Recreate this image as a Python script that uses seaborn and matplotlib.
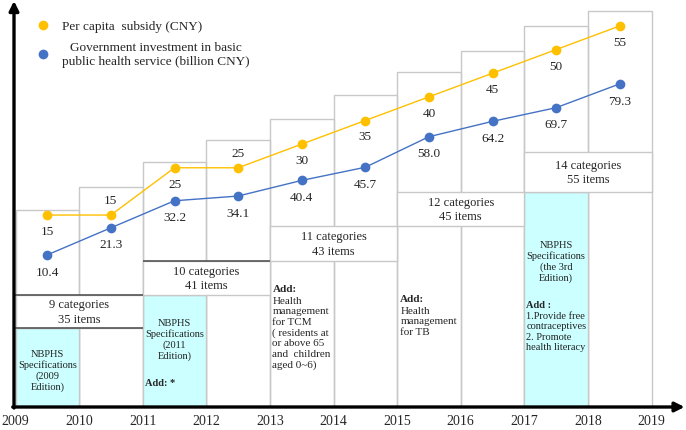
import matplotlib
matplotlib.use("Agg")
import matplotlib.pyplot as plt
from matplotlib.patches import Rectangle
from matplotlib.lines import Line2D
import seaborn as sns
import pandas as pd

# data
years = list(range(2009, 2019))
subsidy = [15, 15, 25, 25, 30, 35, 40, 45, 50, 55]
investment = [10.4, 21.3, 32.2, 34.1, 40.4, 45.7, 58.0, 64.2, 69.7, 79.3]
tick_years = list(range(2009, 2020))

category_labels = ["9 categories\n35 items", "10 categories\n41 items",
                   "11 categories\n43 items", "12 categories\n45 items",
                   "14 categories\n55 items"]
category_start = [2009, 2011, 2013, 2015, 2017]

spec_labels = ["NBPHS\nSpecifications\n(2009\nEdition)",
               "NBPHS\nSpecifications\n(2011\nEdition)",
               "NBPHS\nSpecifications\n(the 3rd\nEdition)"]
spec_years = [2009, 2011, 2017]

subsidy_label = "Per capita  subsidy (CNY)"
investment_label = "Government investment in basic\npublic health service (billion CNY)"

add_2013 = "Health\nmanagement\nfor TCM\n( residents at\nor above 65\nand  children\naged 0~6)"
add_2015 = "Health\nmanagement\nfor TB"
add_2017 = "1.Provide free\ncontraceptives\n2. Promote\nhealth literacy"

# layout (pixel units above the x axis)
column_top = [197, 220, 245, 267, 288, 312, 335, 356, 381, 396]
category_bottom = [79, 112, 146, 181, 215]
category_height = [33, 34, 35, 34, 40]
spec_top = [79, 112, 215]
spec_text_y = [37, 68, 146]

YELLOW = "#FFC000"
BLUE = "#4472C4"
CYAN = "#CCFFFF"
LIGHT = "#C8C8C8"
DARK = "#555555"

sns.set_style("white")
plt.rcParams["font.family"] = ["Liberation Serif", "DejaVu Serif"]

fig = plt.figure(figsize=(6.86, 4.31), dpi=100)
ax = fig.add_axes([0, 23 / 431, 1, 408 / 431])
ppy = 63.6
ax.set_xlim(2009 - 15.5 / ppy, 2009 + (686 - 15.5) / ppy)
ax.set_ylim(0, 408)
for s in ax.spines.values():
    s.set_visible(False)
ax.set_yticks([])
ax.set_xticks(tick_years)
ax.tick_params(axis="x", length=0, pad=5, labelsize=10)

# year columns
for y, top in zip(years, column_top):
    ax.add_patch(Rectangle((y, 0), 1, top, fill=False, ec=LIGHT, lw=1))

# specification boxes
for y, top in zip(spec_years, spec_top):
    ax.add_patch(Rectangle((y, 0), 1, top, fc=CYAN, ec=LIGHT, lw=1))

# category boxes
for lab, start, b, h in zip(category_labels, category_start, category_bottom, category_height):
    ax.add_patch(Rectangle((start, b), 2, h, fc="white", ec=LIGHT, lw=1))
    ax.text(start + 1, b + h / 2, lab, ha="center", va="center", fontsize=9, linespacing=1.3)
ax.hlines([79, 112], 2009 - 1.5 / ppy, 2011, color=DARK, lw=1.2)
ax.hlines(146, 2011, 2013, color=DARK, lw=1.2)

for y, lab, ty in zip(spec_years, spec_labels, spec_text_y):
    ax.text(y + 0.5, ty, lab, ha="center", va="center", fontsize=7.5, linespacing=1.2, color="#222222")

ax.text(2011.03, 24, "Add: *", ha="left", va="center", fontsize=7.5, fontweight="bold")
ax.text(2017.03, 102, "Add :", ha="left", va="center", fontsize=7.5, fontweight="bold")
ax.text(2017.03, 96, add_2017, ha="left", va="top", fontsize=7.5, linespacing=1.2, color="#222222")
ax.text(2013.04, 118, "Add:", ha="left", va="center", fontsize=8, fontweight="bold")
ax.text(2013.04, 111, add_2013, ha="left", va="top", fontsize=8, linespacing=1.2)
ax.text(2015.05, 108, "Add:", ha="left", va="center", fontsize=8, fontweight="bold")
ax.text(2015.05, 101, add_2015, ha="left", va="top", fontsize=8, linespacing=1.2)

# axes arrows
x0 = 2009 - 1.5 / ppy
arrow = dict(arrowstyle="-|>", lw=2.4, color="black", mutation_scale=14, shrinkA=0, shrinkB=0)
ax.annotate("", xy=(x0, 406), xytext=(x0, -1), arrowprops=arrow, annotation_clip=False)
ax.annotate("", xy=(2019.52, 0), xytext=(x0 - 0.02, 0), arrowprops=arrow, annotation_clip=False)

df = pd.DataFrame({"mid": [y + 0.5 for y in years], "subsidy": subsidy, "investment": investment})

ax_s = ax.twinx()
ax_s.set_ylim(-25.6, 60.7)
ax_s.axis("off")
sns.lineplot(data=df, x="mid", y="subsidy", ax=ax_s, color=YELLOW, lw=1,
             marker="o", markersize=7, markeredgewidth=0)
above = [1, 3]
for i, (x, v) in enumerate(zip(df["mid"], subsidy)):
    off = 11 if i in above else -11.5
    ax_s.annotate(f"{v}", (x, v), xytext=(0, off), textcoords="offset points",
                  ha="center", va="center", fontsize=9.5)

ax_i = ax.twinx()
ax_i.set_ylim(-50.9, 113.5)
ax_i.axis("off")
sns.lineplot(data=df, x="mid", y="investment", ax=ax_i, color=BLUE, lw=1,
             marker="o", markersize=7, markeredgewidth=0)
for x, v in zip(df["mid"], investment):
    ax_i.annotate(f"{v:.1f}", (x, v), xytext=(0, -12), textcoords="offset points",
                  ha="center", va="center", fontsize=9.5)

handles = [Line2D([], [], ls="", marker="o", ms=7, mew=0, color=YELLOW),
           Line2D([], [], ls="", marker="o", ms=7, mew=0, color=BLUE)]
leg = ax_i.legend(handles, [subsidy_label, investment_label], loc="upper left",
                  bbox_to_anchor=(38 / 686, 1 - 21 / 431), bbox_transform=fig.transFigure,
                  frameon=False, fontsize=9.5, handlelength=0.8, handletextpad=1.0,
                  labelspacing=0.7, borderpad=0, borderaxespad=0)
for t in leg.get_texts():
    t.set_multialignment("center")

fig.savefig("out.png", dpi=100)
